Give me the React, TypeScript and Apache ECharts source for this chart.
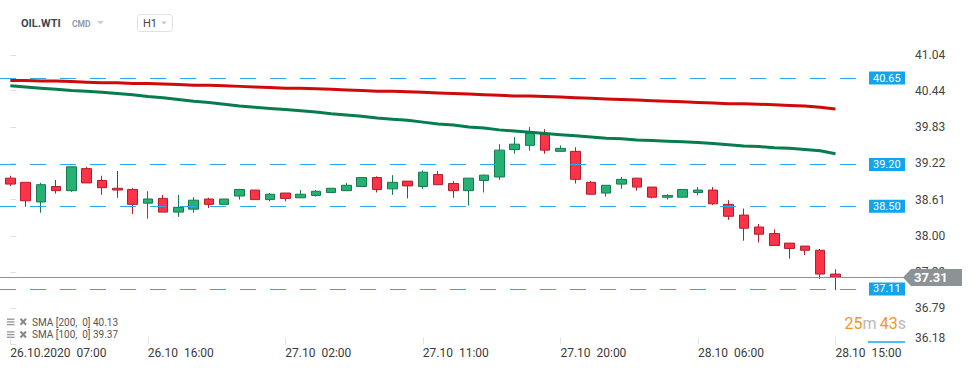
import React, { useEffect, useRef } from "react";
import * as echarts from "echarts";

// ---- data ----
const timeLabels = [
  "26.10.2020  07:00", "26.10  08:00", "26.10  09:00", "26.10  10:00", "26.10  11:00", "26.10  12:00",
  "26.10  13:00", "26.10  14:00", "26.10  15:00", "26.10  16:00", "26.10  17:00", "26.10  18:00",
  "26.10  19:00", "26.10  20:00", "26.10  21:00", "26.10  22:00", "27.10  00:00", "27.10  01:00",
  "27.10  02:00", "27.10  03:00", "27.10  04:00", "27.10  05:00", "27.10  06:00", "27.10  07:00",
  "27.10  08:00", "27.10  09:00", "27.10  10:00", "27.10  11:00", "27.10  12:00", "27.10  13:00",
  "27.10  14:00", "27.10  15:00", "27.10  16:00", "27.10  17:00", "27.10  18:00", "27.10  19:00",
  "27.10  20:00", "27.10  21:00", "27.10  22:00", "28.10  00:00", "28.10  01:00", "28.10  02:00",
  "28.10  03:00", "28.10  04:00", "28.10  05:00", "28.10  06:00", "28.10  07:00", "28.10  08:00",
  "28.10  09:00", "28.10  10:00", "28.10  11:00", "28.10  12:00", "28.10  13:00", "28.10  14:00",
  "28.10  15:00",
];

const opens = [
  38.97, 38.9, 38.57, 38.83, 38.76, 39.13, 38.93, 38.8, 38.78, 38.55, 38.63, 38.4, 38.45, 38.62,
  38.53, 38.67, 38.77, 38.61, 38.72, 38.64, 38.68, 38.73, 38.76, 38.83, 38.98, 38.79, 38.92, 38.83,
  39.03, 38.88, 38.76, 38.93, 38.99, 39.45, 39.52, 39.71, 39.42, 39.42, 38.9, 38.72, 38.87, 38.97,
  38.82, 38.65, 38.65, 38.73, 38.77, 38.53, 38.35, 38.15, 38.04, 37.88, 37.83, 37.76, 37.36,
];
const closes = [
  38.87, 38.59, 38.86, 38.76, 39.16, 38.89, 38.81, 38.77, 38.53, 38.62, 38.4, 38.48, 38.6, 38.53,
  38.62, 38.78, 38.61, 38.7, 38.63, 38.7, 38.75, 38.8, 38.85, 38.98, 38.78, 38.9, 38.84, 39.07,
  38.86, 38.76, 38.97, 39.02, 39.44, 39.54, 39.72, 39.44, 39.47, 38.95, 38.7, 38.85, 38.95, 38.82,
  38.65, 38.68, 38.78, 38.77, 38.54, 38.33, 38.13, 38.03, 37.84, 37.79, 37.76, 37.36, 37.31,
];
const lows = [
  38.84, 38.49, 38.39, 38.71, 38.74, 38.89, 38.69, 38.64, 38.37, 38.29, 38.4, 38.32, 38.39, 38.47,
  38.53, 38.61, 38.61, 38.58, 38.58, 38.64, 38.66, 38.73, 38.76, 38.83, 38.73, 38.69, 38.63, 38.79,
  38.86, 38.64, 38.51, 38.73, 38.94, 39.38, 39.43, 39.38, 39.42, 38.88, 38.7, 38.66, 38.79, 38.76,
  38.63, 38.61, 38.65, 38.68, 38.52, 38.27, 37.92, 37.89, 37.84, 37.62, 37.68, 37.28, 37.09,
];
const highs = [
  39.01, 38.9, 38.89, 38.94, 39.16, 39.16, 39.01, 39.09, 38.8, 38.75, 38.69, 38.69, 38.65, 38.64,
  38.62, 38.78, 38.77, 38.72, 38.72, 38.77, 38.77, 38.8, 38.89, 38.98, 39.0, 39.02, 38.92, 39.1,
  39.09, 38.92, 38.97, 39.03, 39.54, 39.66, 39.83, 39.79, 39.52, 39.49, 38.92, 38.85, 38.99, 38.97,
  38.82, 38.7, 38.78, 38.82, 38.82, 38.6, 38.46, 38.2, 38.11, 37.88, 37.83, 37.78, 37.44,
];

const sma200 = [
  40.61, 40.61, 40.6, 40.6, 40.59, 40.58, 40.57, 40.57, 40.56, 40.56, 40.55, 40.54, 40.53, 40.53,
  40.52, 40.51, 40.5, 40.49, 40.48, 40.48, 40.47, 40.46, 40.45, 40.44, 40.43, 40.43, 40.42, 40.41,
  40.4, 40.39, 40.38, 40.37, 40.36, 40.35, 40.35, 40.34, 40.33, 40.32, 40.31, 40.3, 40.29, 40.28,
  40.27, 40.26, 40.25, 40.24, 40.23, 40.22, 40.22, 40.21, 40.2, 40.19, 40.18, 40.16, 40.13,
];
const sma100 = [
  40.52, 40.5, 40.48, 40.46, 40.44, 40.43, 40.41, 40.39, 40.37, 40.34, 40.32, 40.29, 40.26, 40.24,
  40.21, 40.18, 40.16, 40.14, 40.12, 40.1, 40.08, 40.05, 40.03, 40.01, 39.98, 39.96, 39.94, 39.91,
  39.88, 39.86, 39.83, 39.81, 39.78, 39.76, 39.74, 39.72, 39.7, 39.68, 39.66, 39.64, 39.63, 39.61,
  39.6, 39.59, 39.58, 39.57, 39.55, 39.53, 39.51, 39.5, 39.48, 39.47, 39.45, 39.43, 39.38,
];

const smaNames = ["SMA [200,  0]", "SMA [100,  0]"];
const smaLast = [40.13, 39.37];
const levelLines = [40.65, 39.2, 38.5, 37.11];
const lastPrice = 37.31;
const yTicks = [36.18, 36.79, 37.39, 38.0, 38.61, 39.22, 39.83, 40.44, 41.04];
const xTickIdx = [0, 9, 18, 27, 36, 45, 54];
const symbolName = "OIL.WTI";
const symbolType = "CMD";
const timeframe = "H1";
const timerMin = "25";
const timerSec = "43";

const FONT = "Roboto, 'Noto Sans', sans-serif";

export default function App() {
  const ref = useRef<HTMLDivElement>(null);

  useEffect(() => {
    if (!ref.current) return;
    const chart = echarts.init(ref.current, undefined, { renderer: "svg" });

    const candleData = opens.map((o, i) => [i, o, closes[i], lows[i], highs[i]]);
    const s200 = sma200.map((v, i) => [i, v]);
    const s100 = sma100.map((v, i) => [i, v]);

    chart.setOption({
      animation: false,
      backgroundColor: "#ffffff",
      textStyle: { fontFamily: FONT },
      grid: { left: 0, right: 108, top: 39.3, bottom: 23.6, containLabel: false },
      xAxis: {
        type: "value",
        min: -0.674,
        max: 56.0,
        axisLine: { show: false },
        splitLine: { show: false },
        axisTick: {
          show: true,
          inside: true,
          length: 7,
          customValues: xTickIdx,
          lineStyle: { color: "#e3e3e3" },
        },
        axisLabel: {
          customValues: xTickIdx,
          formatter: (v: number) => timeLabels[Math.round(v)] ?? "",
          align: "left",
          margin: 3,
          color: "#3a3a3a",
          fontSize: 12,
          fontFamily: FONT,
        },
      },
      yAxis: {
        type: "value",
        position: "right",
        offset: 39,
        min: 36.18,
        max: 41.3,
        scale: true,
        axisLine: { show: false },
        splitLine: { show: false },
        axisTick: {
          show: true,
          length: 6,
          customValues: yTicks,
          lineStyle: { color: "#e0e0e0" },
        },
        axisLabel: {
          customValues: yTicks,
          margin: 10,
          color: "#444",
          fontSize: 12,
          fontFamily: FONT,
          formatter: (v: number) =>
            v === yTicks[0] ? `{lo|${v.toFixed(2)}}` : v.toFixed(2),
          rich: {
            lo: { padding: [0, 0, 13, 0], fontSize: 12, color: "#444", fontFamily: FONT },
          },
        },
      },
      series: [
        {
          type: "candlestick",
          data: candleData,
          barWidth: 10,
          clip: false,
          itemStyle: {
            color: "#25b173",
            color0: "#ff3347",
            borderColor: "#157a4c",
            borderColor0: "#b11f2c",
            borderWidth: 1,
          },
          markLine: {
            silent: true,
            symbol: ["none", "none"],
            lineStyle: { type: [16, 14], color: "#2aa9ef", width: 1.2 },
            label: {
              position: "end",
              distance: 3,
              formatter: (p: any) => Number(p.value).toFixed(2),
              backgroundColor: "#12a5ec",
              color: "#ffffff",
              fontSize: 11,
              fontFamily: FONT,
              padding: [1, 4, 1, 4],
              width: 28,
              align: "left",
            },
            data: levelLines.map((v) => ({ yAxis: v })),
          },
        },
        {
          type: "line",
          data: s200,
          showSymbol: false,
          symbol: "none",
          lineStyle: { color: "#d00a0a", width: 3 },
          z: 3,
        },
        {
          type: "line",
          data: s100,
          showSymbol: false,
          symbol: "none",
          lineStyle: { color: "#077c4e", width: 3 },
          z: 3,
        },
      ],
    });

    const yLast = Math.round(chart.convertToPixel({ yAxisIndex: 0 }, lastPrice) as number) + 0.5;

    const legendGraphics: any[] = [];
    smaNames.forEach((name, i) => {
      const cy = 322 + i * 12.7;
      legendGraphics.push(
        { type: "rect", shape: { x: 7, y: cy - 3.5, width: 7.5, height: 1.4 }, style: { fill: "#999" } },
        { type: "rect", shape: { x: 7, y: cy - 0.8, width: 7.5, height: 1.4 }, style: { fill: "#999" } },
        { type: "rect", shape: { x: 7, y: cy + 1.9, width: 7.5, height: 1.4 }, style: { fill: "#999" } },
        { type: "line", shape: { x1: 20.5, y1: cy - 3.2, x2: 26, y2: cy + 2.8 }, style: { stroke: "#888", lineWidth: 2 } },
        { type: "line", shape: { x1: 26, y1: cy - 3.2, x2: 20.5, y2: cy + 2.8 }, style: { stroke: "#888", lineWidth: 2 } },
        {
          type: "text",
          x: 32,
          y: cy,
          style: {
            text: `${name} ${smaLast[i].toFixed(2)}`,
            fill: "#555",
            font: `10px ${FONT}`,
            textVerticalAlign: "middle",
            verticalAlign: "middle",
          },
        }
      );
    });

    chart.setOption({
      graphic: [
        // header
        {
          type: "text",
          x: 21,
          y: 23,
          style: { text: symbolName, fill: "#3b4750", font: `bold 11px ${FONT}`, textVerticalAlign: "middle", verticalAlign: "middle" },
        },
        {
          type: "text",
          x: 72,
          y: 24,
          style: { text: symbolType, fill: "#8d9ba6", font: `bold 8.5px ${FONT}`, textVerticalAlign: "middle", verticalAlign: "middle" },
        },
        { type: "polygon", shape: { points: [[97, 21], [104, 21], [100.5, 24.5]] }, style: { fill: "#cfcfcf" } },
        {
          type: "rect",
          shape: { x: 137.5, y: 14.5, width: 35, height: 17, r: 3 },
          style: { fill: "#fff", stroke: "#e1e1e1", lineWidth: 1 },
        },
        {
          type: "text",
          x: 143,
          y: 23,
          style: { text: timeframe, fill: "#444", font: `11px ${FONT}`, textVerticalAlign: "middle", verticalAlign: "middle" },
        },
        { type: "polygon", shape: { points: [[161, 21.5], [167, 21.5], [164, 24.5]] }, style: { fill: "#c9c9c9" } },
        ...legendGraphics,
        // timer
        {
          type: "text",
          x: 906,
          y: 323,
          style: {
            text: `{o|${timerMin}}{g|m} {o|${timerSec}}{g|s}`,
            textAlign: "right",
            align: "right",
            textVerticalAlign: "middle",
            verticalAlign: "middle",
            rich: {
              o: { fill: "#f7941e", font: `16px ${FONT}` },
              g: { fill: "#b9b9b9", font: `16px ${FONT}` },
            },
          },
        },
        // current price line + tag
        {
          type: "line",
          z: 50,
          shape: { x1: 0, y1: yLast, x2: 904, y2: yLast },
          style: { stroke: "#8b9396", lineWidth: 1 },
        },
        {
          type: "polygon",
          z: 60,
          shape: { points: [[903, yLast], [911, yLast - 8.5], [962, yLast - 8.5], [962, yLast + 8.5], [911, yLast + 8.5]] },
          style: { fill: "#8b9396" },
        },
        {
          type: "text",
          z: 61,
          x: 914,
          y: yLast,
          style: {
            text: lastPrice.toFixed(2),
            fill: "#ffffff",
            font: `bold 13px ${FONT}`,
            textVerticalAlign: "middle",
            verticalAlign: "middle",
          },
        },
        // small blue marker at bottom right
        {
          type: "line",
          shape: { x1: 868, y1: 342, x2: 905, y2: 342 },
          style: { stroke: "#1aa7ee", lineWidth: 1.5 },
        },
      ],
    });

    return () => chart.dispose();
  }, []);

  return (
    <div
      ref={ref}
      style={{ position: "absolute", left: 0, top: 0, width: 974, height: 368, background: "#fff" }}
    />
  );
}
